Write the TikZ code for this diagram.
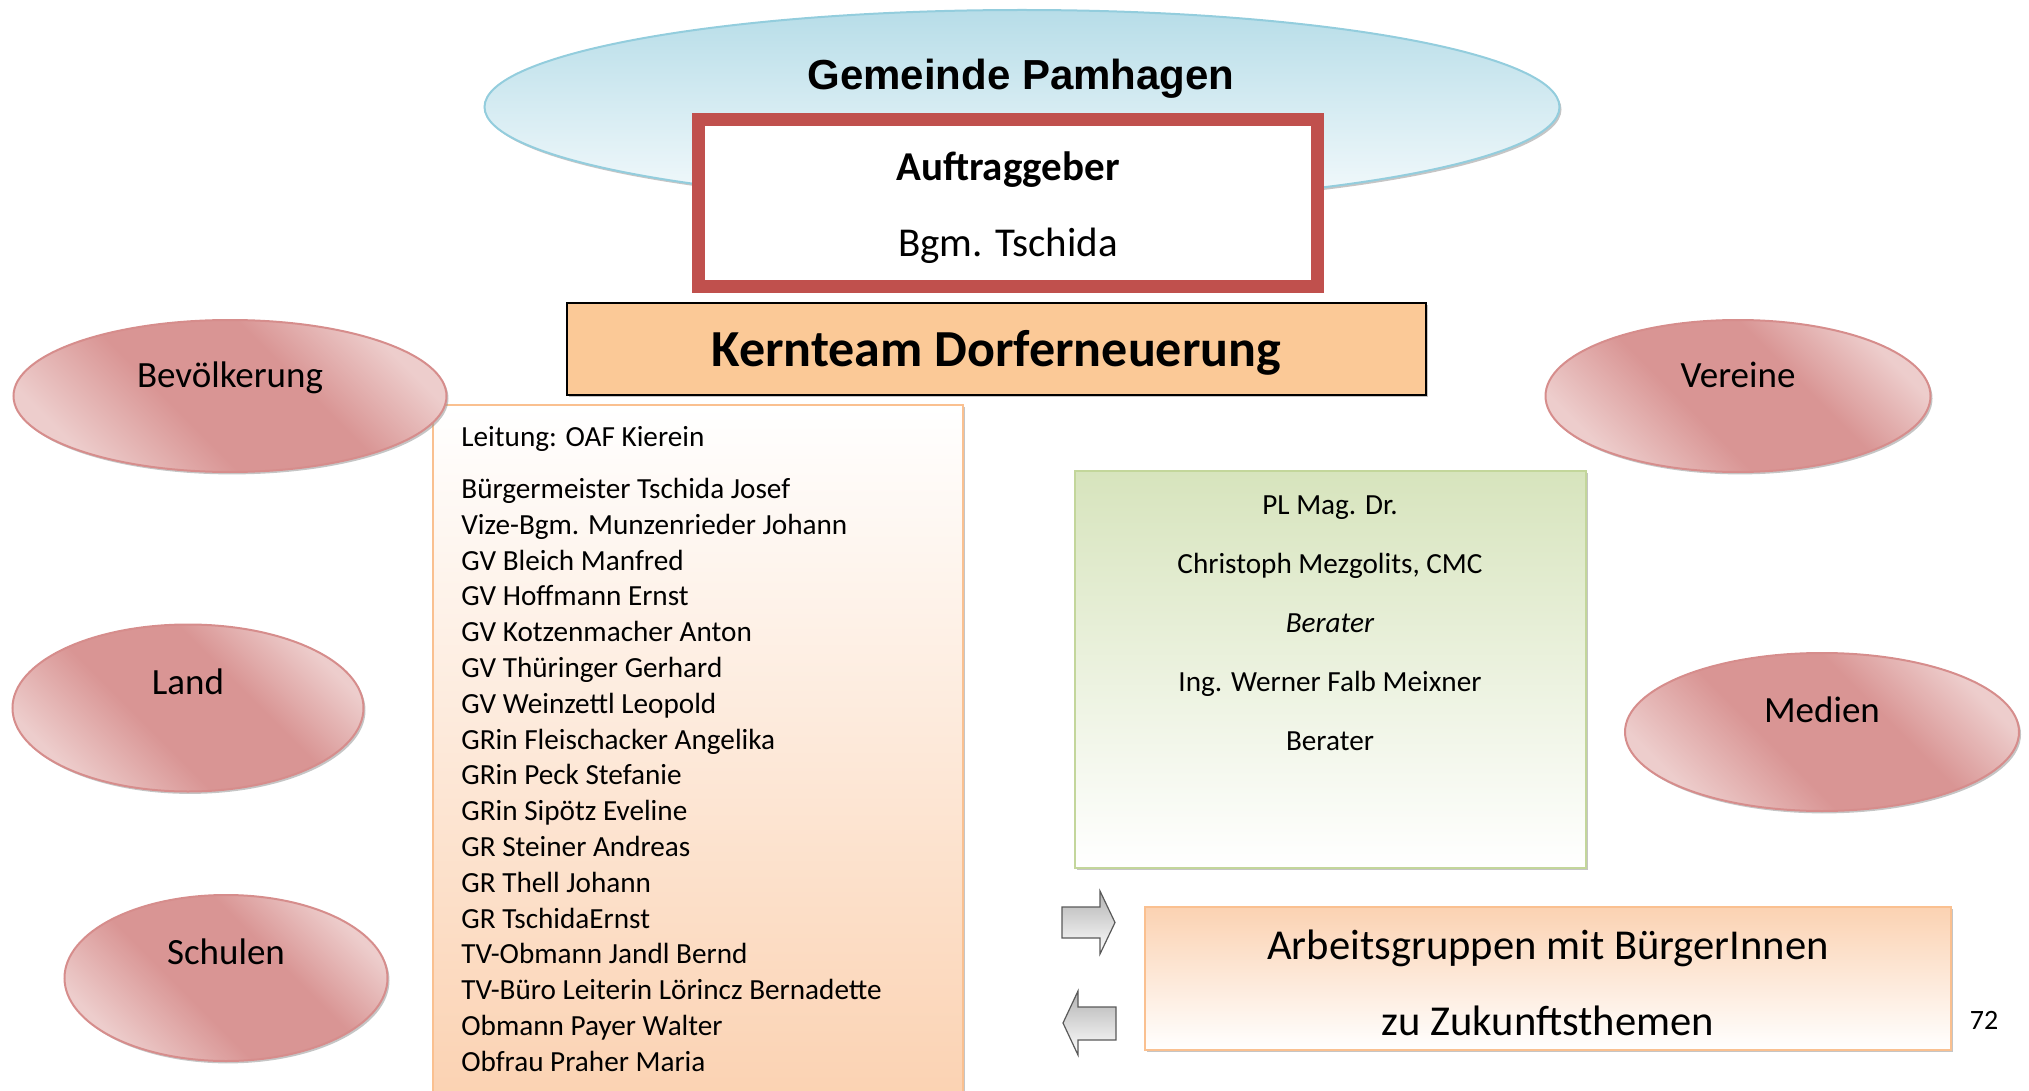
\documentclass[tikz,border=0pt]{standalone}
\usepackage{fontspec}
\setmainfont{Carlito}
\newfontfamily\arialfont{Liberation Sans}
\usetikzlibrary{positioning, shapes.geometric, shadows}
\definecolor{skytop}{HTML}{B7DDE8}
\definecolor{skylow}{HTML}{F4FAFC}
\definecolor{skyline}{HTML}{93CDDD}
\definecolor{redframe}{HTML}{C0504D}
\definecolor{kernfill}{HTML}{FBC997}
\definecolor{rosedark}{HTML}{D99594}
\definecolor{roselight}{HTML}{EDCDCC}
\definecolor{roseline}{HTML}{D68D8C}
\definecolor{peachline}{HTML}{FAC090}
\definecolor{peachfill}{HTML}{FBD2B2}
\definecolor{sageline}{HTML}{C3D69B}
\definecolor{sagefill}{HTML}{D7E4BD}
\pgfdeclareverticalshading{roseshade}{100bp}{color(0bp)=(roselight); color(25bp)=(roselight); color(42bp)=(rosedark); color(60bp)=(rosedark); color(75bp)=(roselight); color(100bp)=(roselight)}
\tikzset{
    softshadow/.style={drop shadow={shadow xshift=1pt, shadow yshift=-1.2pt, fill=black!45, opacity=0.5}},
    rose/.style={ellipse, draw=roseline, line width=1pt, inner sep=0pt, softshadow, shading=roseshade, shading angle=-45},
    roselabel/.style={font=\fontsize{18.5}{22}\selectfont, text height=0.7em, text depth=0.2em},
    blockarrow/.style={draw=black!65, line width=0.6pt, top color=gray!60, bottom color=white}
}

\begin{document}
\begin{tikzpicture}[x=0.5pt, y=-0.5pt]
        \useasboundingbox (0,0) rectangle (2029,1091);

        \node[ellipse, draw=skyline, line width=1pt, inner sep=0pt, top color=skytop, bottom color=skylow, minimum width=537.5pt, minimum height=97pt, softshadow] (gem) at (1022,107) {};
        \node[font=\arialfont\bfseries\fontsize{21}{25}\selectfont] (gemtext) at (1021,79) {Gemeinde Pamhagen};
        \node[draw=redframe, line width=6.5pt, fill=white, minimum width=309.75pt, minimum height=83.25pt] (auftrag) at (1008,203) {};
        \node[align=center, font=\fontsize{20.5}{38}\selectfont] (auftragtext) at (1008,207.5) {\textbf{Auftraggeber}\\Bgm. Tschida};
        \node[draw, line width=1pt, fill=kernfill, minimum width=429.5pt, minimum height=46pt, text depth=0.05em, font=\bfseries\fontsize{26}{30}\selectfont, softshadow] (kern) at (996.5,349) {Kernteam Dorferneuerung};

        \node[draw=peachline, line width=1pt, top color=white, bottom color=peachfill, minimum width=265pt, minimum height=347.5pt, softshadow] (listbox) at (698,752.5) {};
        \node[anchor=north west, inner sep=0pt, align=left, font=\fontsize{14.6}{17.9}\selectfont] (members) at (461,426.3) {Leitung: OAF Kierein\\[8pt]
            Bürgermeister Tschida Josef\\
            Vize-Bgm. Munzenrieder Johann\\
            GV Bleich Manfred\\
            GV Hoffmann Ernst\\
            GV Kotzenmacher Anton\\
            GV Thüringer Gerhard\\
            GV Weinzettl Leopold\\
            GRin Fleischacker Angelika\\
            GRin Peck Stefanie\\
            GRin Sipötz Eveline\\
            GR Steiner Andreas\\
            GR Thell Johann\\
            GR TschidaErnst\\
            TV-Obmann Jandl Bernd\\
            TV-Büro Leiterin Lörincz Bernadette\\
            Obmann Payer Walter\\
            Obfrau Praher Maria};

        \node[rose, minimum width=216.5pt, minimum height=76pt] (bev) at (230,396) {};
        \node[roselabel] (bevtext) at (230,382) {Bevölkerung};
        \node[rose, minimum width=175.5pt, minimum height=83.5pt] (land) at (188,708) {};
        \node[roselabel] (landtext) at (188,689) {Land};
        \node[rose, minimum width=161.5pt, minimum height=83pt] (schulen) at (226,978) {};
        \node[roselabel] (schulentext) at (226,959) {Schulen};
        \node[rose, minimum width=192.5pt, minimum height=76pt] (vereine) at (1738,396) {};
        \node[roselabel] (vereinetext) at (1738,382) {Vereine};
        \node[rose, minimum width=197pt, minimum height=79pt] (medien) at (1822,732) {};
        \node[roselabel] (medientext) at (1822,717) {Medien};

        \node[draw=sageline, line width=1pt, top color=sagefill, bottom color=white, minimum width=255.5pt, minimum height=198.5pt, softshadow] (berater) at (1330.5,669.5) {};
        \node[align=center, font=\fontsize{14.6}{29.5}\selectfont] (beratertext) at (1330,623) {PL Mag. Dr.\\Christoph Mezgolits, CMC\\\textit{Berater}\\Ing. Werner Falb Meixner\\Berater};

        \node[draw=peachline, line width=1pt, top color=peachfill, bottom color=white, minimum width=403pt, minimum height=71.5pt, softshadow] (ag) at (1548,978.5) {};
        \node[align=center, font=\fontsize{21.3}{38}\selectfont] (agtext) at (1548,983) {Arbeitsgruppen mit BürgerInnen\\zu Zukunftsthemen};
        \node[font=\fontsize{14}{17}\selectfont] (page) at (1984,1020) {72};

        \draw[blockarrow] (1062,907) -- (1100,907) -- (1100,891) -- (1115,922.5) -- (1100,954) -- (1100,938) -- (1062,938) -- cycle;
        \draw[blockarrow] (1116,1007) -- (1078,1007) -- (1078,991) -- (1063,1023) -- (1078,1055) -- (1078,1040) -- (1116,1040) -- cycle;
\end{tikzpicture}
\end{document}
